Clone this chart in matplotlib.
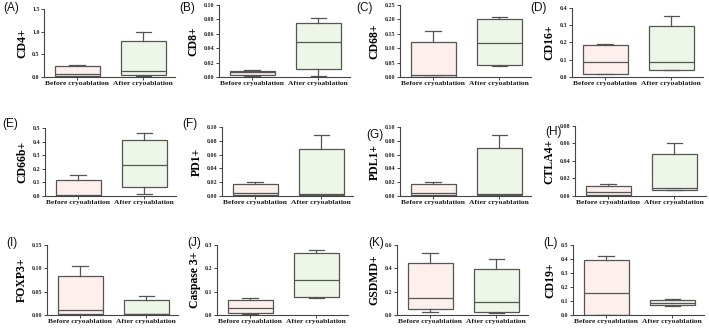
import matplotlib
matplotlib.use("Agg")
import matplotlib.pyplot as plt

W, H = 709, 331

categories = ["Before cryoablation", "After cryoablation"]
panel_letters = ["(A)", "(B)", "(C)", "(D)", "(E)", "(F)", "(G)", "(H)", "(I)", "(J)", "(K)", "(L)"]
markers = ["CD4+", "CD8+", "CD68+", "CD16+", "CD66b+", "PD1+", "PDL1+", "CTLA4+",
           "FOXP3+", "Caspase 3+", "GSDMD+", "CD19+"]

# (min, q1, median, q3, max) for Before, After
before_stats = [
    (0.0, 0.02, 0.075, 0.235, 0.275),
    (0.001, 0.0023, 0.007, 0.0088, 0.0092),
    (0.0, 0.001, 0.008, 0.122, 0.158),
    (0.018, 0.019, 0.085, 0.183, 0.193),
    (0.0, 0.002, 0.006, 0.117, 0.153),
    (0.0, 0.001, 0.005, 0.018, 0.021),
    (0.0, 0.001, 0.005, 0.018, 0.021),
    (0.0, 0.001, 0.005, 0.0114, 0.0137),
    (0.001, 0.003, 0.011, 0.083, 0.106),
    (0.006, 0.007, 0.029, 0.065, 0.071),
    (0.026, 0.049, 0.15, 0.445, 0.53),
    (0.0, 0.0, 0.155, 0.39, 0.42),
]
after_stats = [
    (0.015, 0.035, 0.125, 0.80, 1.0),
    (0.002, 0.011, 0.048, 0.075, 0.082),
    (0.037, 0.041, 0.117, 0.202, 0.208),
    (0.039, 0.043, 0.085, 0.296, 0.354),
    (0.012, 0.067, 0.23, 0.41, 0.465),
    (0.001, 0.0015, 0.0035, 0.068, 0.089),
    (0.001, 0.0015, 0.0035, 0.069, 0.089),
    (0.0065, 0.0069, 0.0088, 0.048, 0.060),
    (0.001, 0.0015, 0.003, 0.032, 0.040),
    (0.072, 0.076, 0.15, 0.265, 0.28),
    (0.014, 0.029, 0.109, 0.397, 0.48),
    (0.065, 0.069, 0.089, 0.108, 0.112),
]
y_max = [1.5, 0.10, 0.25, 0.4, 0.5, 0.10, 0.10, 0.08, 0.15, 0.3, 0.6, 0.5]
y_step = [0.5, 0.02, 0.05, 0.1, 0.1, 0.02, 0.02, 0.02, 0.05, 0.1, 0.2, 0.1]
y_fmt = ["%.1f", "%.2f", "%.2f", "%.1f", "%.1f", "%.2f", "%.2f", "%.2f", "%.2f", "%.1f", "%.1f", "%.1f"]

box_colors = ["#fcefec", "#eef6e8"]
edge = "#555555"

# axes rectangles in pixels: left, top, bottom
rects = [
    (44, 9, 77), (219, 5, 77), (400, 5, 77), (572, 8, 77),
    (45, 128, 196), (222, 127, 196), (400, 127, 196), (575, 126, 196),
    (47, 245, 315), (217, 245, 315), (397, 245, 315), (573, 245, 315),
]
axw = 131
letter_pos = [
    (3, 8), (179, 8), (356, 8), (530, 8),
    (2, 124), (182, 124), (366, 135), (545, 132),
    (6, 243), (187, 243), (368, 243), (543, 243),
]

fig = plt.figure(figsize=(W / 100, H / 100), dpi=100)
serif = ["Liberation Serif", "DejaVu Serif"]

for i in range(12):
    l, t, b = rects[i]
    ax = fig.add_axes([l / W, 1 - b / H, axw / W, (b - t) / H])
    stats = []
    for s in (before_stats[i], after_stats[i]):
        stats.append(dict(whislo=s[0], q1=s[1], med=s[2], q3=s[3], whishi=s[4], fliers=[]))
    bp = ax.bxp(stats, positions=[1, 2], widths=0.68, patch_artist=True, showfliers=False,
                boxprops=dict(edgecolor=edge, linewidth=0.9),
                medianprops=dict(color=edge, linewidth=0.9),
                whiskerprops=dict(color=edge, linewidth=0.9),
                capprops=dict(color=edge, linewidth=0.9),
                capwidths=0.23)
    for p, c in zip(bp["boxes"], box_colors):
        p.set_facecolor(c)
    ax.set_xlim(0.5, 2.48)
    ax.set_ylim(0, y_max[i])
    n = int(round(y_max[i] / y_step[i]))
    ticks = [k * y_step[i] for k in range(n + 1)]
    ax.set_yticks(ticks)
    ax.set_yticklabels([y_fmt[i] % v for v in ticks], fontsize=4.3, fontweight="bold",
                       family=serif)
    ax.set_xticks([1, 2])
    ax.set_xticklabels(categories, fontsize=5.4, fontweight="bold", family=serif)
    ax.tick_params(axis="both", length=2, width=0.7, pad=1.2, colors="#444444")
    ax.tick_params(axis="x", labelcolor="#1a1a1a")
    ax.tick_params(axis="y", labelcolor="#222222")
    for sp in ("top", "right"):
        ax.spines[sp].set_visible(False)
    for sp in ("left", "bottom"):
        ax.spines[sp].set_color("#444444")
        ax.spines[sp].set_linewidth(0.8)
    ax.set_ylabel(markers[i], fontsize=8.5, fontweight="bold", family=serif, labelpad=3)
    lx, ly = letter_pos[i]
    fig.text(lx / W, 1 - ly / H, panel_letters[i], fontsize=8.5, family=["Liberation Sans"],
             ha="left", va="center", color="#111111")

fig.savefig("out.png", dpi=100)
